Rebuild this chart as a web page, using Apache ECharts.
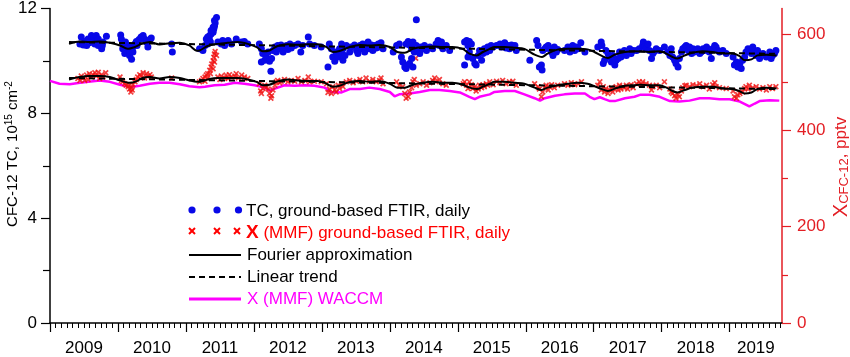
<!DOCTYPE html>
<html><head><meta charset="utf-8">
<script src="https://cdn.jsdelivr.net/npm/echarts@6/dist/echarts.min.js"></script>
<style>html,body{margin:0;padding:0;background:#fff}#c{width:850px;height:357px}</style>
</head><body><div id="c"></div>
<script>
// ---------- tick labels ----------
const yearTicks = [2009,2010,2011,2012,2013,2014,2015,2016,2017,2018,2019];
const yearLabels = ['2009','2010','2011','2012','2013','2014','2015','2016','2017','2018','2019'];
const yearLabelPos = [2009.5,2010.5,2011.5,2012.5,2013.5,2014.5,2015.5,2016.5,2017.5,2018.5,2019.385];
const leftTicks = [0,4,8,12];
const rightTicks = [0,200,400,600];
const rightMinorTicks = [100,300,500];

// ---------- TC daily (10^15 cm^-2) ----------
const tcDaily = [
[2009.46,10.91],[2009.44,10.65],[2009.51,10.74],[2009.56,10.84],[2009.61,10.97],[2009.63,10.78],[2009.68,10.97],[2009.71,10.84],[2009.73,10.65],[2009.76,10.46],[2009.78,10.72],[2009.83,10.94],[2009.49,10.61],[2009.54,10.59],[2009.58,10.69],[2009.66,10.65],[2009.71,10.59],[2009.77,10.59],
[2010.04,10.99],[2010.05,10.84],[2010.07,10.65],[2010.07,10.46],[2010.10,10.28],[2010.12,10.40],[2010.16,10.46],[2010.17,10.21],[2010.20,10.06],[2010.18,10.34],[2010.22,10.53],[2010.25,10.65],[2010.27,10.74],[2010.28,10.59],[2010.31,10.82],[2010.34,10.91],[2010.37,10.97],[2010.39,10.84],[2010.42,10.72],[2010.44,10.53],[2010.47,10.82],[2010.49,10.87],[2010.22,10.34],[2010.15,10.59],[2010.11,10.72],[2010.79,10.65],[2010.80,10.34],
[2011.20,10.46],[2011.28,10.59],[2011.30,10.84],[2011.32,10.91],[2011.35,10.97],[2011.37,11.03],[2011.40,11.09],[2011.41,11.22],[2011.42,11.32],[2011.43,11.45],[2011.45,11.66],[2011.42,11.54],[2011.40,11.28],[2011.37,11.16],[2011.35,10.78],[2011.36,10.72],[2011.32,10.65],[2011.25,10.40],[2011.47,10.72],[2011.52,10.65],[2011.57,10.59],[2011.62,10.78],[2011.67,10.65],[2011.74,10.84],[2011.82,10.72],[2011.86,10.74],[2011.91,10.65],[2011.54,10.78],
[2012.08,10.65],[2012.11,10.46],[2012.13,10.28],[2012.11,9.96],[2012.16,10.03],[2012.18,10.15],[2012.21,10.34],[2012.23,9.99],[2012.26,10.09],[2012.25,9.61],[2012.28,10.40],[2012.31,10.53],[2012.33,10.34],[2012.35,10.59],[2012.38,10.46],[2012.40,10.61],[2012.43,10.34],[2012.45,10.53],[2012.48,10.59],[2012.50,10.44],[2012.53,10.65],[2012.55,10.49],[2012.60,10.59],[2012.65,10.65],[2012.69,10.34],[2012.72,10.59],[2012.80,10.91],[2012.82,10.65],[2012.89,10.59],[2012.99,10.53],
[2013.09,9.77],[2013.11,10.65],[2013.14,10.46],[2013.16,10.15],[2013.19,9.99],[2013.21,10.34],[2013.24,10.15],[2013.26,10.46],[2013.29,10.28],[2013.31,10.03],
[2013.29,10.65],[2013.31,10.46],[2013.34,10.21],[2013.36,10.59],[2013.41,10.34],[2013.43,10.53],[2013.48,10.61],[2013.51,10.40],[2013.53,10.28],[2013.56,10.59],[2013.58,10.46],[2013.60,10.65],[2013.63,10.34],[2013.65,10.53],[2013.68,10.72],[2013.70,10.46],[2013.73,10.61],[2013.75,10.40],[2013.78,10.59],[2013.80,10.49],[2013.83,10.65],[2013.85,10.53],[2013.87,10.69],[2013.90,10.46],
[2014.05,10.34],[2014.10,10.59],[2014.14,10.65],[2014.17,10.15],[2014.19,9.96],[2014.22,9.77],[2014.24,9.71],[2014.27,9.84],[2014.29,9.90],[2014.32,10.09],[2014.34,9.77],[2014.24,10.65],[2014.27,10.74],[2014.29,10.61],[2014.32,10.46],[2014.34,10.72],[2014.36,10.34],[2014.39,10.59],[2014.41,10.40],[2014.44,10.28],[2014.46,10.53],[2014.49,10.46],[2014.51,10.59],[2014.54,10.40],[2014.59,10.53],[2014.63,10.46],[2014.68,10.65],[2014.71,10.78],[2014.73,10.59],[2014.76,10.72],[2014.78,10.46],[2014.83,10.59],[2014.88,10.40],[2014.39,11.57],
[2015.10,10.72],[2015.13,10.78],[2015.15,10.59],[2015.17,10.74],[2015.20,10.65],[2015.15,10.15],[2015.10,9.84],[2015.17,10.34],[2015.22,10.09],[2015.27,9.84],[2015.25,9.90],[2015.30,10.21],[2015.32,10.40],[2015.35,10.03],[2015.37,10.28],[2015.39,10.46],[2015.42,10.34],[2015.44,10.53],[2015.47,10.40],
[2015.49,10.59],[2015.52,10.53],[2015.57,10.59],[2015.62,10.65],[2015.64,10.53],[2015.66,10.61],[2015.69,10.69],[2015.71,10.49],[2015.74,10.59],[2015.76,10.46],[2015.79,10.61],[2015.81,10.53],[2015.84,10.59],[2015.86,10.40],
[2016.06,10.03],[2016.16,10.78],[2016.18,10.59],[2016.20,9.77],[2016.23,9.84],[2016.24,9.65],[2016.25,10.40],[2016.28,10.46],[2016.30,10.53],[2016.33,10.59],[2016.35,10.46],[2016.38,10.34],[2016.40,10.21],[2016.42,10.53],[2016.45,10.34],[2016.47,10.44],[2016.57,10.40],[2016.62,10.53],[2016.65,10.34],[2016.67,10.46],[2016.69,10.59],[2016.72,10.40],[2016.74,10.53],[2016.77,10.46],[2016.81,10.69],[2016.87,10.34],
[2017.06,10.53],[2017.11,10.72],[2017.12,10.59],[2017.14,9.90],[2017.16,10.03],[2017.18,10.40],[2017.21,10.28],[2017.23,10.15],[2017.26,9.96],[2017.28,10.21],[2017.31,9.84],[2017.33,10.03],[2017.36,10.09],[2017.38,10.34],[2017.40,10.15],[2017.43,10.28],[2017.45,10.40],[2017.48,10.21],[2017.50,10.34],[2017.53,10.46],[2017.55,10.28],[2017.58,10.40],
[2017.63,10.40],[2017.67,10.46],[2017.72,10.59],[2017.73,10.72],[2017.75,10.53],[2017.77,10.46],[2017.80,10.65],[2017.82,10.40],[2017.85,10.09],[2017.87,10.28],[2017.89,10.36],[2017.92,10.46],[2017.97,10.40],
[2018.04,10.53],[2018.09,10.34],[2018.12,10.21],[2018.14,10.46],[2018.16,10.15],[2018.19,10.03],[2018.21,9.90],[2018.24,9.77],[2018.26,10.09],[2018.29,10.34],[2018.31,10.46],[2018.34,10.53],[2018.36,10.59],[2018.39,10.40],[2018.41,10.53],[2018.44,10.28],[2018.46,10.46],[2018.48,10.34],[2018.51,10.40],[2018.53,10.46],[2018.56,10.28],[2018.58,10.34],[2018.61,10.46],[2018.63,10.40],[2018.66,10.53],[2018.70,10.34],[2018.73,10.09],[2018.75,10.46],[2018.78,10.59],[2018.80,10.53],[2018.83,10.40],[2018.85,10.34],[2018.90,10.40],[2018.95,10.28],
[2019.05,10.15],[2019.07,9.84],[2019.10,9.96],[2019.12,9.77],[2019.15,9.90],[2019.17,9.71],[2019.19,10.03],[2019.22,10.15],[2019.24,10.34],[2019.27,10.46],[2019.29,10.40],[2019.32,10.28],[2019.34,10.53],[2019.37,10.34],[2019.39,10.21],[2019.41,10.40],[2019.44,10.09],[2019.49,10.28],[2019.54,10.15],[2019.59,10.34],[2019.61,10.09],[2019.63,10.21],[2019.66,10.28],[2019.68,10.40]
];

// ---------- X (MMF) daily (pptv) ----------
const mmfDaily = [
[2009.41,508],[2009.46,513],[2009.49,509],[2009.54,515],[2009.56,506],[2009.58,518],[2009.61,511],[2009.63,516],[2009.66,520],[2009.68,513],[2009.71,521],[2009.73,508],[2009.76,516],[2009.78,511],[2009.82,520],[2009.51,504],[2009.44,504],
[2010.03,511],[2010.05,504],[2010.07,501],[2010.10,497],[2010.12,494],[2010.15,491],[2010.17,486],[2010.19,480],[2010.20,489],[2010.22,495],[2010.25,501],[2010.27,506],[2010.29,511],[2010.32,516],[2010.34,513],[2010.37,520],[2010.39,509],[2010.42,518],[2010.44,513],[2010.47,516],[2010.49,511],[2010.21,484],[2010.16,494],[2010.79,509],
[2011.20,501],[2011.23,504],[2011.25,508],[2011.28,511],[2011.30,515],[2011.32,518],[2011.35,525],[2011.37,532],[2011.38,538],[2011.40,545],[2011.41,552],[2011.42,559],[2011.43,564],[2011.45,556],[2011.42,542],[2011.40,528],[2011.36,518],[2011.32,508],[2011.28,502],
[2011.47,511],[2011.50,506],[2011.52,513],[2011.57,509],[2011.59,515],[2011.62,508],[2011.64,516],[2011.67,511],[2011.72,513],[2011.74,518],[2011.77,509],[2011.82,515],[2011.86,511],[2011.91,508],
[2012.08,497],[2012.10,482],[2012.11,477],[2012.13,487],[2012.16,494],[2012.18,489],[2012.21,486],[2012.23,477],[2012.25,467],[2012.26,472],[2012.28,484],[2012.31,494],[2012.33,501],[2012.35,504],[2012.38,499],[2012.40,502],[2012.45,506],[2012.50,501],[2012.55,504],[2012.60,502],[2012.65,508],[2012.70,501],[2012.75,504],[2012.80,511],[2012.82,501],[2012.89,502],[2012.99,501],
[2013.07,497],[2013.09,479],[2013.11,486],[2013.14,477],[2013.16,491],[2013.19,484],[2013.21,480],[2013.24,494],[2013.26,487],[2013.29,497],[2013.31,491],
[2013.36,501],[2013.41,504],[2013.46,499],[2013.51,502],[2013.56,506],[2013.60,501],[2013.65,509],[2013.70,502],[2013.75,506],[2013.80,501],[2013.85,504],[2013.87,509],[2013.90,497],
[2014.10,501],[2014.14,494],[2014.19,491],[2014.22,477],[2014.24,467],[2014.27,470],[2014.29,480],[2014.32,489],[2014.34,501],[2014.36,506],[2014.39,494],[2014.44,497],[2014.49,501],[2014.54,494],[2014.59,499],[2014.63,504],[2014.66,509],[2014.68,501],[2014.73,506],[2014.78,497],[2014.83,494],[2014.38,550],
[2015.08,497],[2015.10,501],[2015.13,494],[2015.15,487],[2015.17,501],[2015.20,495],[2015.22,487],[2015.25,491],[2015.27,482],[2015.30,486],[2015.32,494],[2015.35,489],[2015.37,495],[2015.39,491],[2015.42,497],[2015.44,494],
[2015.47,501],[2015.52,495],[2015.57,502],[2015.62,499],[2015.66,504],[2015.71,497],[2015.76,501],[2015.81,502],[2015.86,494],
[2016.13,497],[2016.18,491],[2016.20,486],[2016.23,470],[2016.25,480],[2016.28,489],[2016.30,494],[2016.33,484],[2016.35,491],[2016.38,495],[2016.42,489],[2016.47,494],[2016.57,497],[2016.62,494],[2016.67,499],[2016.72,495],[2016.77,497],[2016.82,501],
[2017.06,494],[2017.09,501],[2017.11,484],[2017.14,491],[2017.16,480],[2017.18,487],[2017.21,477],[2017.23,484],[2017.26,489],[2017.28,480],[2017.31,486],[2017.33,491],[2017.36,484],[2017.38,494],[2017.40,486],[2017.43,491],[2017.45,489],[2017.48,494],[2017.50,486],[2017.53,491],[2017.55,495],[2017.58,489],
[2017.63,497],[2017.67,501],[2017.70,495],[2017.72,501],[2017.77,497],[2017.82,494],[2017.85,484],[2017.87,491],[2017.92,494],[2017.97,489],
[2018.04,501],[2018.12,486],[2018.14,480],[2018.16,477],[2018.19,472],[2018.21,467],[2018.24,475],[2018.26,470],[2018.29,482],[2018.31,489],[2018.34,493],[2018.36,494],[2018.41,491],[2018.46,495],[2018.51,493],[2018.56,497],[2018.61,491],[2018.66,494],[2018.70,486],[2018.75,495],[2018.78,499],[2018.80,491],[2018.85,489],[2018.95,487],
[2019.05,482],[2019.07,470],[2019.10,467],[2019.12,474],[2019.15,477],[2019.19,480],[2019.22,487],[2019.24,491],[2019.27,486],[2019.29,494],[2019.34,489],[2019.39,491],[2019.44,486],[2019.49,489],[2019.54,484],[2019.59,491],[2019.63,487],[2019.68,491]
];

// ---------- Fourier approximations ----------
const tcFourier = [
[2009.28,10.65],[2009.44,10.74],[2009.58,10.72],[2009.73,10.74],[2009.88,10.69],[2010.03,10.59],[2010.14,10.46],[2010.25,10.53],[2010.35,10.65],[2010.47,10.72],[2010.61,10.63],[2010.76,10.67],[2010.91,10.69],[2011.05,10.59],[2011.16,10.39],[2011.20,10.40],[2011.32,10.57],[2011.47,10.65],[2011.61,10.69],[2011.76,10.72],[2011.91,10.65],[2012.04,10.53],[2012.13,10.37],[2012.23,10.40],[2012.35,10.57],[2012.50,10.64],[2012.64,10.62],[2012.79,10.64],[2012.94,10.64],[2013.07,10.53],[2013.16,10.34],[2013.26,10.38],[2013.41,10.53],[2013.56,10.61],[2013.70,10.59],[2013.85,10.61],[2014.00,10.53],[2014.11,10.34],[2014.22,10.31],[2014.34,10.46],[2014.48,10.53],[2014.63,10.55],[2014.78,10.53],[2014.92,10.53],[2015.07,10.46],[2015.17,10.28],[2015.28,10.21],[2015.37,10.34],[2015.47,10.46],[2015.54,10.53],[2015.69,10.53],[2015.84,10.50],[2015.98,10.46],[2016.13,10.24],[2016.24,10.15],[2016.32,10.28],[2016.47,10.43],[2016.62,10.46],[2016.76,10.46],[2016.91,10.44],[2017.01,10.34],[2017.12,10.19],[2017.21,10.11],[2017.31,10.24],[2017.46,10.34],[2017.60,10.37],[2017.82,10.34],[2017.97,10.37],[2018.07,10.28],[2018.16,10.15],[2018.23,10.09],[2018.34,10.21],[2018.45,10.31],[2018.60,10.37],[2018.75,10.34],[2018.90,10.28],[2019.04,10.28],[2019.14,10.19],[2019.22,10.03],[2019.32,10.06],[2019.41,10.21],[2019.54,10.24],[2019.69,10.21]
];
const mmfFourier = [
[2009.28,506],[2009.44,511],[2009.58,513],[2009.73,513],[2009.88,511],[2010.03,504],[2010.17,499],[2010.27,502],[2010.36,509],[2010.47,511],[2010.61,508],[2010.76,511],[2010.91,509],[2011.05,504],[2011.16,501],[2011.20,501],[2011.32,506],[2011.47,509],[2011.61,509],[2011.76,509],[2011.91,506],[2012.04,501],[2012.13,494],[2012.23,495],[2012.35,502],[2012.50,506],[2012.64,504],[2012.79,503],[2012.94,503],[2013.07,497],[2013.16,491],[2013.26,493],[2013.41,501],[2013.56,503],[2013.70,501],[2013.85,502],[2014.00,497],[2014.11,489],[2014.22,489],[2014.34,495],[2014.48,499],[2014.63,501],[2014.78,499],[2014.92,499],[2015.07,495],[2015.17,489],[2015.28,486],[2015.37,491],[2015.47,497],[2015.54,501],[2015.69,501],[2015.84,499],[2015.98,497],[2016.13,489],[2016.23,484],[2016.32,489],[2016.47,494],[2016.62,497],[2016.76,499],[2016.91,497],[2017.01,492],[2017.12,486],[2017.21,482],[2017.31,487],[2017.46,493],[2017.60,494],[2017.68,495],[2017.82,494],[2017.97,494],[2018.07,489],[2018.16,482],[2018.23,479],[2018.34,484],[2018.45,489],[2018.60,491],[2018.75,491],[2018.90,487],[2019.04,486],[2019.14,482],[2019.22,477],[2019.32,479],[2019.41,486],[2019.54,489],[2019.69,487]
];

// ---------- Linear trends ----------
const tcTrend = [[2009.28,10.72],[2019.69,10.27]];
const mmfTrend = [[2009.28,509],[2019.69,486]];

// ---------- WACCM X (MMF), pptv ----------
const waccm = [
[2009.00,503],[2009.14,497],[2009.29,496],[2009.44,499],[2009.73,504],[2009.88,501],[2010.03,495],[2010.17,490],[2010.32,493],[2010.47,497],[2010.61,499],[2010.76,499],[2010.91,496],[2011.05,492],[2011.20,490],[2011.28,491],[2011.42,494],[2011.57,495],[2011.72,499],[2011.86,497],[2012.01,494],[2012.16,489],[2012.23,483],[2012.31,487],[2012.45,494],[2012.60,493],[2012.75,494],[2012.89,493],[2013.04,489],[2013.14,480],[2013.29,479],[2013.41,486],[2013.56,486],[2013.70,489],[2013.85,486],[2014.00,480],[2014.07,471],[2014.14,475],[2014.29,477],[2014.44,480],[2014.59,484],[2014.73,484],[2014.88,482],[2015.03,479],[2015.17,470],[2015.25,465],[2015.32,470],[2015.47,475],[2015.54,480],[2015.69,482],[2015.84,482],[2015.98,475],[2016.13,467],[2016.21,462],[2016.28,467],[2016.43,472],[2016.57,475],[2016.72,477],[2016.87,477],[2016.94,470],[2017.01,465],[2017.09,469],[2017.16,465],[2017.24,461],[2017.31,461],[2017.46,467],[2017.60,470],[2017.68,474],[2017.82,474],[2017.97,470],[2018.12,461],[2018.26,460],[2018.41,462],[2018.56,467],[2018.70,467],[2018.85,465],[2019.00,465],[2019.15,460],[2019.29,450],[2019.37,456],[2019.44,461],[2019.59,463],[2019.73,462]
];

// monthly minor ticks (axis decoration)
const monthTicks = [];
for (let y = 2009; y <= 2019; y++) {
  for (let m = 1; m < 12; m++) {
    const v = +(y + m / 12).toFixed(4);
    if (v < 2019.77) monthTicks.push(v);
  }
}

const FONT = "'Liberation Sans', Arial, sans-serif";
const RED = '#e31e24';
const BLUE = '#0808e8';
const X_MIN = 2009, X_MAX = 2019.77, R_MAX = 653.4;
const crossPath = 'path://M0,2L2,0L5,3L8,0L10,2L7,5L10,8L8,10L5,7L2,10L0,8L3,5Z';

const chart = echarts.init(document.getElementById('c'), null, {renderer: 'canvas'});

function crossLines(cx, cy) {
  return [
    {type:'line', shape:{x1:cx-3,y1:cy-3,x2:cx+3,y2:cy+3}, style:{stroke:'#ff0000', lineWidth:2}},
    {type:'line', shape:{x1:cx+3,y1:cy-3,x2:cx-3,y2:cy+3}, style:{stroke:'#ff0000', lineWidth:2}}
  ];
}

const graphics = [
  {type:'text', x:13, y:154, rotation:Math.PI/2,
   style:{text:'{a|CFC-12 TC, 10}{s|15}{a| cm}{s|-2}', align:'center', verticalAlign:'middle',
     rich:{a:{fontSize:15, fontFamily:FONT, fill:'#000', lineHeight:18},
           s:{fontSize:10, fontFamily:FONT, fill:'#000', lineHeight:10, verticalAlign:'top'}}}},
  {type:'text', x:841, y:167, rotation:Math.PI/2,
   style:{text:'{x|X}{s|CFC-12}{a|, pptv}', align:'center', verticalAlign:'middle',
     rich:{x:{fontSize:20, fontFamily:FONT, fill:RED, lineHeight:20},
           s:{fontSize:13, fontFamily:FONT, fill:RED, lineHeight:13, verticalAlign:'bottom'},
           a:{fontSize:17, fontFamily:FONT, fill:RED, lineHeight:20}}}},
  {type:'circle', shape:{cx:192, cy:210, r:3.6}, style:{fill:BLUE}},
  {type:'circle', shape:{cx:217, cy:210, r:3.6}, style:{fill:BLUE}},
  {type:'circle', shape:{cx:238.5, cy:210, r:3.6}, style:{fill:BLUE}},
  {type:'text', x:246, y:211, style:{text:'TC, ground-based FTIR, daily', font:'17px '+FONT, fill:'#000', verticalAlign:'middle'}},
  ...crossLines(192, 231), ...crossLines(217, 231), ...crossLines(237, 231),
  {type:'text', x:246, y:233, style:{text:'{x|X}{t| (MMF) ground-based FTIR, daily}', verticalAlign:'middle',
     rich:{x:{fontSize:19, fontWeight:'bold', fontFamily:FONT, fill:'#ff0000'}, t:{fontSize:17, fontFamily:FONT, fill:'#ff0000'}}}},
  {type:'line', shape:{x1:189, y1:255, x2:241, y2:255}, style:{stroke:'#000', lineWidth:2}},
  {type:'text', x:247, y:255, style:{text:'Fourier approximation', font:'17px '+FONT, fill:'#000', verticalAlign:'middle'}},
  {type:'line', shape:{x1:189, y1:277, x2:241, y2:277}, style:{stroke:'#000', lineWidth:2, lineDash:[6,4]}},
  {type:'text', x:247, y:277, style:{text:'Linear trend', font:'17px '+FONT, fill:'#000', verticalAlign:'middle'}},
  {type:'line', shape:{x1:189, y1:299, x2:241, y2:299}, style:{stroke:'#ff00ff', lineWidth:3}},
  {type:'text', x:247, y:299, style:{text:'X (MMF) WACCM', font:'17px '+FONT, fill:'#ff00ff', verticalAlign:'middle'}}
];

const option = {
  animation: false,
  backgroundColor: '#fff',
  grid: {left:50, right:68, top:6, bottom:33, containLabel:false},
  xAxis: [
    {type:'value', min:X_MIN, max:X_MAX, position:'bottom',
     axisLine:{show:true, onZero:false, lineStyle:{color:'#000', width:1.5}},
     axisTick:{show:true, customValues:yearTicks, length:9, inside:false, lineStyle:{color:'#000', width:1.2}},
     axisLabel:{show:true, customValues:yearLabelPos, margin:17, fontSize:17, fontFamily:FONT, color:'#000',
       formatter:(v)=>yearLabels[Math.floor(v)-2009]},
     splitLine:{show:false}},
    {type:'value', min:X_MIN, max:X_MAX, position:'bottom',
     axisLine:{show:false},
     axisTick:{show:true, customValues:monthTicks, length:5, inside:false, lineStyle:{color:'#000', width:1}},
     axisLabel:{show:false}, splitLine:{show:false}}
  ],
  yAxis: [
    {type:'value', min:0, max:12, interval:4, position:'left',
     axisLine:{show:true, onZero:false, lineStyle:{color:'#000', width:1.5}},
     axisTick:{show:true, length:9, inside:false, lineStyle:{color:'#000', width:1.2}},
     minorTick:{show:true, splitNumber:2, length:7, lineStyle:{color:'#000', width:1.2}},
     axisLabel:{margin:13, fontSize:17, fontFamily:FONT, color:'#000', customValues:leftTicks},
     splitLine:{show:false}},
    {type:'value', min:0, max:R_MAX, position:'right',
     axisLine:{show:true, onZero:false, lineStyle:{color:RED, width:1.5}},
     axisTick:{show:true, customValues:rightTicks, length:9, inside:false, lineStyle:{color:RED, width:1.2}},
     axisLabel:{customValues:rightTicks, margin:15, fontSize:17, fontFamily:FONT, color:RED},
     splitLine:{show:false}},
    {type:'value', min:0, max:R_MAX, position:'right',
     axisLine:{show:false},
     axisTick:{show:true, customValues:rightMinorTicks, length:6, inside:false, lineStyle:{color:RED, width:1.2}},
     axisLabel:{show:false}, splitLine:{show:false}}
  ],
  series: [
    {name:'X (MMF) WACCM', type:'line', xAxisIndex:0, yAxisIndex:1, data:waccm, showSymbol:false, symbol:'none',
     lineStyle:{color:'#ff00ff', width:2.5}, z:1},
    {name:'X (MMF) ground-based FTIR, daily', type:'scatter', xAxisIndex:0, yAxisIndex:1, data:mmfDaily,
     symbol:crossPath, symbolSize:6, itemStyle:{color:'#f01010'}, z:2},
    {name:'TC, ground-based FTIR, daily', type:'scatter', xAxisIndex:0, yAxisIndex:0, data:tcDaily,
     symbol:'circle', symbolSize:7, itemStyle:{color:BLUE, opacity:1}, z:3},
    {name:'Fourier TC', type:'line', xAxisIndex:0, yAxisIndex:0, data:tcFourier, showSymbol:false, symbol:'none', smooth:0.3,
     lineStyle:{color:'#000', width:2}, z:4},
    {name:'Fourier MMF', type:'line', xAxisIndex:0, yAxisIndex:1, data:mmfFourier, showSymbol:false, symbol:'none', smooth:0.3,
     lineStyle:{color:'#000', width:2}, z:4},
    {name:'Trend TC', type:'line', xAxisIndex:0, yAxisIndex:0, data:tcTrend, showSymbol:false, symbol:'none',
     lineStyle:{color:'#000', width:2, type:[6,4]}, z:4},
    {name:'Trend MMF', type:'line', xAxisIndex:0, yAxisIndex:1, data:mmfTrend, showSymbol:false, symbol:'none',
     lineStyle:{color:'#000', width:2, type:[6,4]}, z:4}
  ],
  graphic: graphics
};
chart.setOption(option);
</script>
</body></html>
